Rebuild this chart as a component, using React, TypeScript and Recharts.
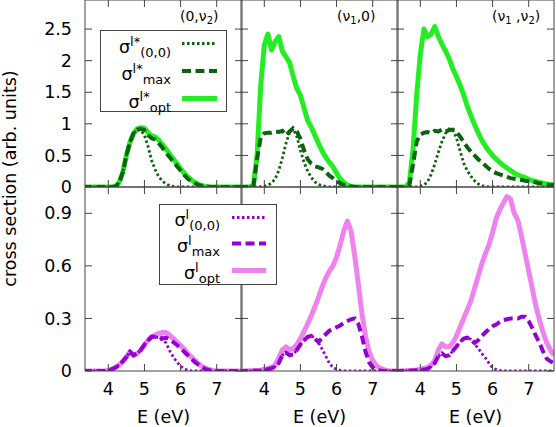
import React from 'react';
import { LineChart, Line, XAxis, YAxis } from 'recharts';

// photon energy grid (eV)
const energy = [
  3.3, 3.4, 3.5, 3.6, 3.7, 3.8, 3.9, 4.0, 4.1, 4.2,
  4.3, 4.4, 4.5, 4.6, 4.7, 4.8, 4.9, 5.0, 5.1, 5.2,
  5.3, 5.4, 5.5, 5.6, 5.7, 5.8, 5.9, 6.0, 6.1, 6.2,
  6.3, 6.4, 6.5, 6.6, 6.7, 6.8, 6.9, 7.0, 7.1, 7.2,
  7.3, 7.4, 7.5, 7.6, 7.7,
];

const xTicks = [4, 5, 6, 7];
const topTicks = [0, 0.5, 1, 1.5, 2, 2.5];
const bottomTicks = [0, 0.3, 0.6, 0.9];

// top row, sigma^l*  --- (0,v2)
const tlDot = [
  0, 0, 0, 0, 0, 0, 0, 0, 0, 0.01,
  0.07, 0.23, 0.5, 0.71, 0.85, 0.91, 0.9, 0.82, 0.64, 0.42,
  0.27, 0.16, 0.09, 0.05, 0.02, 0.01, 0, 0, 0, 0,
  0, 0, 0, 0, 0, 0, 0, 0, 0, 0,
  0, 0, 0, 0, 0,
];
const tlMax = [
  0, 0, 0, 0, 0, 0, 0, 0, 0, 0.01,
  0.07, 0.23, 0.5, 0.71, 0.85, 0.91, 0.92, 0.9, 0.82, 0.77,
  0.75, 0.69, 0.62, 0.54, 0.47, 0.4, 0.33, 0.26, 0.19, 0.13,
  0.09, 0.06, 0.03, 0.02, 0.01, 0, 0, 0, 0, 0,
  0, 0, 0, 0, 0,
];
const tlOpt = [
  0, 0, 0, 0, 0, 0, 0, 0, 0, 0.01,
  0.07, 0.23, 0.5, 0.71, 0.85, 0.92, 0.94, 0.93, 0.86, 0.81,
  0.79, 0.74, 0.67, 0.6, 0.52, 0.44, 0.37, 0.29, 0.22, 0.16,
  0.11, 0.07, 0.04, 0.02, 0.01, 0, 0, 0, 0, 0,
  0, 0, 0, 0, 0,
];

// (v1,0)
const tmDot = [
  0, 0, 0, 0, 0, 0, 0.005, 0.01, 0.03, 0.06,
  0.13, 0.26, 0.46, 0.69, 0.86, 0.92, 0.8, 0.58, 0.39, 0.25,
  0.15, 0.08, 0.04, 0.02, 0.01, 0, 0, 0, 0, 0,
  0, 0, 0, 0, 0, 0, 0, 0, 0, 0,
  0, 0, 0, 0, 0,
];
const tmMax = [
  0, 0, 0, 0, 0.02, 0.45, 0.78, 0.85, 0.86, 0.86,
  0.88, 0.87, 0.89, 0.82, 0.88, 0.93, 0.88, 0.76, 0.58, 0.44,
  0.37, 0.33, 0.31, 0.29, 0.24, 0.18, 0.14, 0.09, 0.06, 0.03,
  0.02, 0.01, 0, 0, 0, 0, 0, 0, 0, 0,
  0, 0, 0, 0, 0,
];
const tmOpt = [
  0, 0, 0, 0, 0.03, 0.5, 1.6, 2.25, 2.42, 2.17,
  2.3, 2.38, 2.15, 2.06, 1.97, 1.75, 1.56, 1.45, 1.25, 1.05,
  0.95, 0.82, 0.69, 0.57, 0.47, 0.39, 0.32, 0.22, 0.13, 0.07,
  0.03, 0.01, 0, 0, 0, 0, 0, 0, 0, 0,
  0, 0, 0, 0, 0,
];

// (v1,v2)
const trDot = [
  0, 0, 0, 0, 0, 0, 0, 0.01, 0.03, 0.08,
  0.2, 0.36, 0.55, 0.72, 0.85, 0.92, 0.9, 0.78, 0.57, 0.38,
  0.26, 0.17, 0.1, 0.05, 0.02, 0.01, 0, 0, 0, 0,
  0, 0, 0, 0, 0, 0, 0, 0, 0, 0,
  0, 0, 0, 0, 0,
];
const trMax = [
  0, 0, 0, 0, 0.04, 0.36, 0.72, 0.83, 0.86, 0.87,
  0.85, 0.89, 0.88, 0.91, 0.88, 0.9, 0.91, 0.87, 0.8, 0.71,
  0.63, 0.56, 0.5, 0.44, 0.39, 0.34, 0.29, 0.25, 0.22, 0.2,
  0.18, 0.16, 0.14, 0.13, 0.12, 0.11, 0.1, 0.09, 0.08, 0.07,
  0.06, 0.05, 0.04, 0.03, 0.03,
];
const trOpt = [
  0, 0, 0, 0, 0.08, 0.6, 1.45, 2.1, 2.5, 2.38,
  2.42, 2.54, 2.38, 2.26, 2.15, 2.03, 1.87, 1.75, 1.61, 1.46,
  1.28, 1.13, 0.99, 0.86, 0.74, 0.65, 0.57, 0.5, 0.44, 0.39,
  0.34, 0.3, 0.26, 0.22, 0.19, 0.17, 0.15, 0.12, 0.1, 0.09,
  0.07, 0.06, 0.05, 0.04, 0.03,
];

// bottom row, sigma^l --- (0,v2)
const blDot = [
  0, 0, 0, 0, 0, 0, 0, 0.003, 0.01, 0.02,
  0.035, 0.055, 0.08, 0.11, 0.09, 0.1, 0.12, 0.15, 0.175, 0.195,
  0.195, 0.19, 0.175, 0.16, 0.115, 0.08, 0.05, 0.028, 0.012, 0.005,
  0, 0, 0, 0, 0, 0, 0, 0, 0, 0,
  0, 0, 0, 0, 0,
];
const blMax = [
  0, 0, 0, 0, 0, 0, 0, 0.003, 0.01, 0.02,
  0.035, 0.055, 0.08, 0.11, 0.09, 0.1, 0.12, 0.15, 0.175, 0.195,
  0.195, 0.198, 0.185, 0.19, 0.18, 0.165, 0.148, 0.13, 0.11, 0.09,
  0.07, 0.05, 0.035, 0.02, 0.01, 0.005, 0, 0, 0, 0,
  0, 0, 0, 0, 0,
];
const blOpt = [
  0, 0, 0, 0, 0, 0, 0, 0.003, 0.01, 0.02,
  0.035, 0.055, 0.08, 0.11, 0.09, 0.1, 0.12, 0.15, 0.175, 0.195,
  0.205, 0.215, 0.22, 0.22, 0.205, 0.185, 0.165, 0.145, 0.125, 0.1,
  0.08, 0.06, 0.04, 0.025, 0.015, 0.008, 0.003, 0, 0, 0,
  0, 0, 0, 0, 0,
];

// (v1,0)
const bmDot = [
  0, 0, 0, 0.001, 0.001, 0.002, 0.003, 0.005, 0.01, 0.015,
  0.025, 0.045, 0.09, 0.105, 0.09, 0.095, 0.12, 0.15, 0.175, 0.195,
  0.2, 0.19, 0.16, 0.125, 0.085, 0.045, 0.02, 0.01, 0.004, 0,
  0, 0, 0, 0, 0, 0, 0, 0, 0, 0,
  0, 0, 0, 0, 0,
];
const bmMax = [
  0, 0, 0, 0.001, 0.001, 0.002, 0.003, 0.005, 0.01, 0.015,
  0.025, 0.045, 0.09, 0.105, 0.09, 0.095, 0.12, 0.15, 0.175, 0.195,
  0.2, 0.185, 0.165, 0.19, 0.21, 0.23, 0.24, 0.25, 0.26, 0.275,
  0.285, 0.295, 0.3, 0.27, 0.2, 0.11, 0.05, 0.02, 0.008, 0.003,
  0, 0, 0, 0, 0,
];
const bmOpt = [
  0, 0, 0.001, 0.001, 0.002, 0.003, 0.005, 0.01, 0.015, 0.022,
  0.035, 0.075, 0.12, 0.138, 0.12, 0.13, 0.15, 0.185, 0.225, 0.27,
  0.315, 0.365, 0.42, 0.48, 0.53, 0.57, 0.6, 0.65, 0.72, 0.8,
  0.855, 0.8, 0.66, 0.5, 0.33, 0.2, 0.11, 0.06, 0.03, 0.017,
  0.008, 0.003, 0, 0, 0,
];

// (v1,v2)
const brDot = [
  0, 0, 0, 0.001, 0.002, 0.003, 0.004, 0.005, 0.008, 0.012,
  0.025, 0.045, 0.085, 0.1, 0.085, 0.09, 0.115, 0.14, 0.165, 0.185,
  0.19, 0.18, 0.155, 0.13, 0.1, 0.075, 0.045, 0.02, 0.008, 0.003,
  0, 0, 0, 0, 0, 0, 0, 0, 0, 0,
  0, 0, 0, 0, 0,
];
const brMax = [
  0, 0, 0, 0.001, 0.002, 0.003, 0.004, 0.005, 0.008, 0.012,
  0.025, 0.045, 0.085, 0.1, 0.085, 0.09, 0.115, 0.14, 0.165, 0.185,
  0.19, 0.18, 0.16, 0.175, 0.2, 0.22, 0.24, 0.255, 0.265, 0.28,
  0.29, 0.295, 0.3, 0.3, 0.3, 0.31, 0.31, 0.285, 0.245, 0.2,
  0.16, 0.11, 0.07, 0.055, 0.045,
];
const brOpt = [
  0, 0, 0.001, 0.002, 0.003, 0.004, 0.006, 0.01, 0.015, 0.02,
  0.035, 0.06, 0.12, 0.155, 0.138, 0.14, 0.16, 0.2, 0.25, 0.3,
  0.35, 0.4, 0.47, 0.54, 0.61, 0.67, 0.72, 0.79, 0.87, 0.92,
  0.96, 0.995, 0.98, 0.9, 0.86, 0.77, 0.67, 0.57, 0.47, 0.37,
  0.29, 0.22, 0.16, 0.12, 0.09,
];

const FONT = 'DejaVu Sans';
const FRAME = '#444';
const darkGreen = '#0b640b';
const lime = '#22ee22';
const darkViolet = '#9400d3';
const violet = '#ee82ee';

const PLOT_W = 157;
const colLeft = [85, 241, 397];
const rowTop = [0, 187];
const rowH = [187, 184];
const yMax = [2.96, 1.05];

const panels = [
  { row: 0, col: 0, dot: tlDot, max: tlMax, opt: tlOpt },
  { row: 0, col: 1, dot: tmDot, max: tmMax, opt: tmOpt },
  { row: 0, col: 2, dot: trDot, max: trMax, opt: trOpt },
  { row: 1, col: 0, dot: blDot, max: blMax, opt: blOpt },
  { row: 1, col: 1, dot: bmDot, max: bmMax, opt: bmOpt },
  { row: 1, col: 2, dot: brDot, max: brMax, opt: brOpt },
];

const noLabel = () => <g />;
const tickStyle = { fill: '#000', fontSize: 17.5, fontFamily: FONT };

function Panel({ row, col, dot, max, opt }: any) {
  const leftW = col === 0 ? 85 : 1;
  // top row keeps a little room below so its "0" label is not cut
  const bottomH = row === 1 ? 56 : 12;
  const plotH = rowH[row];
  const data = energy.map((e, i) => ({ e, dot: dot[i], max: max[i], opt: opt[i] }));
  const thin = row === 0 ? darkGreen : darkViolet;
  const thick = row === 0 ? lime : violet;
  const yTicks = row === 0 ? topTicks : bottomTicks;
  const domainX: [number, number] = [3.355, 7.7];
  const domainY: [number, number] = [0, yMax[row]];

  return (
    <div style={{ position: 'absolute', left: colLeft[col] - leftW, top: rowTop[row] - 1 }}>
      <LineChart
        width={leftW + PLOT_W + 1}
        height={1 + plotH + bottomH}
        data={data}
        margin={{ top: 0, right: 0, bottom: 0, left: 0 }}
      >
        <XAxis
          dataKey="e"
          type="number"
          domain={domainX}
          ticks={xTicks}
          interval={0}
          allowDataOverflow
          height={bottomH}
          tickSize={-7}
          tickMargin={19}
          axisLine={{ stroke: FRAME }}
          tickLine={{ stroke: FRAME }}
          tick={row === 1 ? tickStyle : noLabel}
          label={
            row === 1
              ? { value: 'E (eV)', position: 'insideBottom', offset: 4, fill: '#000', fontSize: 17.5, fontFamily: FONT }
              : undefined
          }
        />
        <XAxis
          xAxisId="top"
          orientation="top"
          dataKey="e"
          type="number"
          domain={domainX}
          ticks={xTicks}
          interval={0}
          allowDataOverflow
          height={1}
          tickSize={-7}
          axisLine={{ stroke: FRAME }}
          tickLine={{ stroke: FRAME }}
          tick={noLabel}
        />
        <YAxis
          type="number"
          domain={domainY}
          ticks={yTicks}
          interval={0}
          allowDataOverflow
          width={leftW}
          tickSize={-7}
          tickMargin={20}
          axisLine={{ stroke: FRAME }}
          tickLine={{ stroke: FRAME }}
          tick={col === 0 ? tickStyle : noLabel}
        />
        <YAxis
          yAxisId="right"
          orientation="right"
          type="number"
          domain={domainY}
          ticks={yTicks}
          interval={0}
          allowDataOverflow
          width={1}
          tickSize={-7}
          axisLine={{ stroke: FRAME }}
          tickLine={{ stroke: FRAME }}
          tick={noLabel}
        />
        <Line
          dataKey="opt"
          type="linear"
          stroke={thick}
          strokeWidth={5}
          strokeLinejoin="round"
          dot={false}
          isAnimationActive={false}
        />
        <Line
          dataKey="max"
          type="linear"
          stroke={thin}
          strokeWidth={4}
          strokeDasharray="9 4.5"
          dot={false}
          isAnimationActive={false}
        />
        <Line
          dataKey="dot"
          type="linear"
          stroke={thin}
          strokeWidth={2.8}
          strokeDasharray="2.5 2.5"
          dot={false}
          isAnimationActive={false}
        />
      </LineChart>
    </div>
  );
}

function Sigma({ x, y, sup, sub }: any) {
  return (
    <text x={x} y={y} textAnchor="end" fontSize={17.5} fontFamily={FONT} fill="#000">
      σ
      <tspan dy={-7} fontSize={13}>{sup}</tspan>
      <tspan dy={11} fontSize={13}>{sub}</tspan>
    </text>
  );
}

function Overlay() {
  const topRows = [
    { y: 43.5, sub: '(0,0)', color: darkGreen, w: 2.8, dash: '2.5 2.5' },
    { y: 71, sub: 'max', color: darkGreen, w: 4, dash: '9 4.5' },
    { y: 98.5, sub: 'opt', color: lime, w: 5, dash: undefined },
  ];
  const bottomRows = [
    { y: 217.5, sub: '(0,0)', color: darkViolet, w: 2.8, dash: '2.5 2.5' },
    { y: 243.5, sub: 'max', color: darkViolet, w: 4, dash: '9 4.5' },
    { y: 270.5, sub: 'opt', color: violet, w: 5, dash: undefined },
  ];
  return (
    <svg
      width={556}
      height={427}
      style={{ position: 'absolute', left: 0, top: 0, pointerEvents: 'none' }}
    >
      <text
        transform="translate(16,178.5) rotate(-90)"
        textAnchor="middle"
        fontSize={17.5}
        fontFamily={FONT}
        fill="#000"
      >
        cross section (arb. units)
      </text>

      {/* panel labels */}
      <text x={180} y={21} fontSize={14} fontFamily={FONT} fill="#000">
        (0,ν<tspan dy={3} fontSize={10}>2</tspan>
        <tspan dy={-3}>)</tspan>
      </text>
      <text x={337} y={21} fontSize={14} fontFamily={FONT} fill="#000">
        (ν<tspan dy={3} fontSize={10}>1</tspan>
        <tspan dy={-3}>,0)</tspan>
      </text>
      <text x={492} y={21} fontSize={14} fontFamily={FONT} fill="#000">
        (ν<tspan dy={3} fontSize={10}>1</tspan>
        <tspan dy={-3}> ,ν</tspan>
        <tspan dy={3} fontSize={10}>2</tspan>
        <tspan dy={-3}>)</tspan>
      </text>

      {/* legend, top row */}
      <rect x={100.5} y={30.5} width={126} height={81} fill="#fff" stroke={FRAME} />
      {topRows.map((r) => (
        <g key={r.sub}>
          <Sigma x={171} y={r.y + 9} sup="l*" sub={r.sub} />
          <line x1={182} x2={217} y1={r.y} y2={r.y} stroke={r.color} strokeWidth={r.w} strokeDasharray={r.dash} />
        </g>
      ))}

      {/* legend, bottom row */}
      <rect x={159.5} y={204.5} width={117} height={80} fill="#fff" stroke={FRAME} />
      {bottomRows.map((r) => (
        <g key={r.sub}>
          <Sigma x={220} y={r.y + 8.5} sup="l" sub={r.sub} />
          <line x1={232} x2={266} y1={r.y} y2={r.y} stroke={r.color} strokeWidth={r.w} strokeDasharray={r.dash} />
        </g>
      ))}
    </svg>
  );
}

export default function App() {
  return (
    <div style={{ position: 'absolute', left: 0, top: 0, width: 556, height: 427, background: '#fff' }}>
      {panels.map((p) => (
        <Panel key={`${p.row}-${p.col}`} {...p} />
      ))}
      <Overlay />
    </div>
  );
}
